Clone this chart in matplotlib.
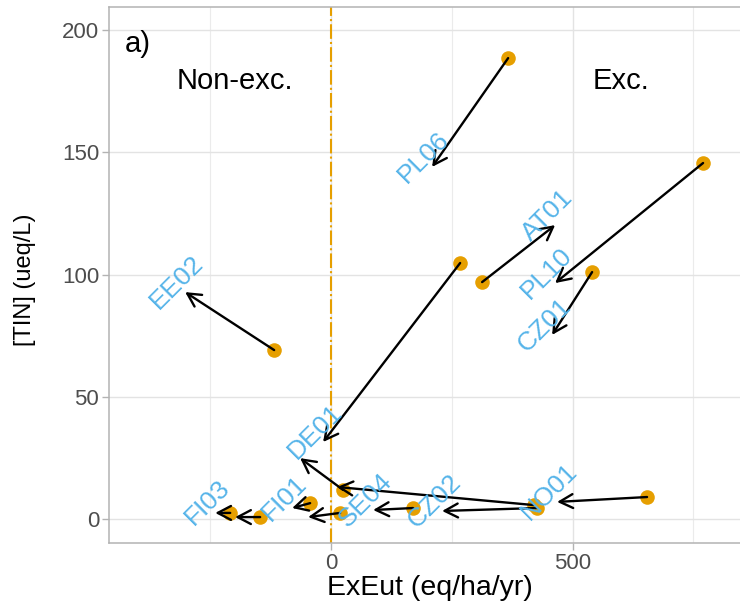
import matplotlib
matplotlib.use("Agg")
import matplotlib.pyplot as plt

plt.rcParams["font.family"] = ["Liberation Sans", "DejaVu Sans"]

# ---- data ----
sites = ["PL06", "PL10", "AT01", "CZ01", "DE01", "EE02", "NO01", "CZ02",
         "", "", "SE04", "", "FI01", "", "FI03"]
x_start = [366.5, 770.2, 312.6, 540.4, 267.1, -118.0, 654.2, 426.5,
           420.3, 24.8, 169.8, 18.6, -43.5, -147.0, -209.0]
y_start = [188.5, 145.6, 96.9, 101.0, 104.7, 69.1, 9.0, 4.5,
           5.7, 11.9, 4.5, 2.5, 6.5, 0.8, 2.5]
x_end = [209.1, 463.8, 463.8, 457.6, -16.6, -302.3, 467.9, 229.8,
         12.4, -64.2, 87.0, -47.6, -80.7, -198.8, -240.0]
y_end = [144.0, 96.5, 120.2, 75.3, 31.5, 92.8, 7.0, 3.3,
         13.1, 24.9, 3.7, 0.8, 4.5, 0.8, 2.5]

x_ticks = [0, 500]
x_minor = [-250, 250, 750]
y_ticks = [0, 50, 100, 150, 200]

# ---- figure ----
fig = plt.figure(figsize=(7.4, 6.06), dpi=100)
ax = fig.add_axes([109 / 740, 63 / 606, 636 / 740, 536 / 606])
ax.set_xlim(-460, 857)
ax.set_ylim(-9.8, 209.4)

ax.set_xticks(x_ticks)
ax.set_xticks(x_minor, minor=True)
ax.set_yticks(y_ticks)
ax.grid(which="major", color="#e3e3e3", lw=1.0, zorder=0)
ax.grid(which="minor", axis="x", color="#ebebeb", lw=0.8, zorder=0)
ax.set_axisbelow(True)
ax.tick_params(which="major", labelsize=16, labelcolor="#4d4d4d",
               color="#b3b3b3", length=5, width=1, pad=2)
ax.tick_params(which="minor", length=0)
for s in ax.spines.values():
    s.set_color("#b3b3b3")
    s.set_linewidth(1.1)

ax.axvline(0, color="#E69F00", lw=1.5, ls=(0, (7, 1.5, 1, 1.5)), zorder=1)

ax.scatter(x_start, y_start, s=110, color="#E69F00", linewidths=0, zorder=3)

for xs, ys, xe, ye in zip(x_start, y_start, x_end, y_end):
    ax.annotate("", xy=(xe, ye), xytext=(xs, ys),
                arrowprops=dict(arrowstyle="->,head_length=0.95,head_width=0.5",
                                color="black", lw=1.7, shrinkA=0, shrinkB=0),
                zorder=4)

for lab, xe, ye in zip(sites, x_end, y_end):
    if lab:
        ax.annotate(lab, xy=(xe, ye), xytext=(-8, 10), textcoords="offset pixels",
                    rotation=45, rotation_mode="anchor", ha="center", va="center",
                    color="#56B4E9", fontsize=19, zorder=5)

ax.text(-400, 191, "a)", ha="center", va="baseline", fontsize=21, color="black")
ax.text(-200, 176, "Non-exc.", ha="center", va="baseline", fontsize=21, color="black")
ax.text(600, 176, "Exc.", ha="center", va="baseline", fontsize=21, color="black")

ax.set_xlabel("ExEut (eq/ha/yr)", fontsize=20.5, va="center")
ax.xaxis.set_label_coords((430 - 109) / 636, (543 - 588) / 536)
ax.set_ylabel("[TIN] (ueq/L)", fontsize=17, va="center")
ax.yaxis.set_label_coords((25 - 109) / 636, (543 - 280) / 536)

fig.savefig("out.png", dpi=100)
